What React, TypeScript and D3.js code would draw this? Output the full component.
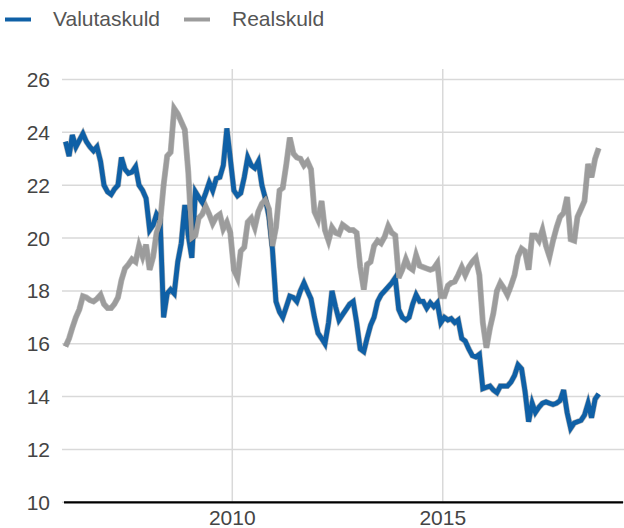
import React from "react";
import * as d3 from "d3";

const START_YEAR = 2006;
const START_MONTH = 0; // January

const valutaskuld = [
  23.65, 23.1, 23.9, 23.45, 23.7, 23.95, 23.65, 23.45, 23.3, 23.45, 22.9, 22.0,
  21.75, 21.65, 21.85, 22.0, 23.05, 22.6, 22.45, 22.5, 22.7, 22.0, 21.8, 21.5,
  20.3, 20.5, 20.9, 20.7, 17.0, 17.9, 18.05, 17.9, 19.1, 19.8, 21.25, 20.1,
  19.25, 21.75, 21.55, 21.35, 21.7, 22.1, 21.8, 22.25, 22.3, 22.75, 24.15, 23.0,
  21.8, 21.6, 21.7, 22.3, 23.05, 22.75, 22.65, 22.9, 22.0, 21.5, 20.8, 19.6,
  17.6, 17.2, 17.0, 17.4, 17.8, 17.75, 17.6, 18.0, 18.3, 18.0, 17.7, 17.0,
  16.4, 16.2, 16.0, 16.8, 18.0, 17.4, 16.9, 17.1, 17.3, 17.5, 17.6, 16.8,
  15.8, 15.7, 16.2, 16.7, 17.0, 17.6, 17.85, 18.0, 18.15, 18.3, 18.5, 17.3,
  17.0, 16.9, 17.0, 17.5, 17.85, 17.6, 17.6, 17.35, 17.55, 17.4, 17.55, 16.8,
  17.0, 16.9, 16.95, 16.8, 16.9, 16.2, 16.1, 15.8, 15.55, 15.5, 15.6, 14.3,
  14.35, 14.4, 14.25, 14.15, 14.4, 14.4, 14.4, 14.55, 14.8, 15.2, 15.05, 14.2,
  13.05, 13.75, 13.4, 13.6, 13.75, 13.8, 13.75, 13.7, 13.75, 13.85, 14.25, 13.4,
  12.8, 13.0, 13.05, 13.1, 13.3, 13.75, 13.2, 13.9, 14.1,
];

const realskuld = [
  15.9, 16.2, 16.6, 17.0, 17.3, 17.8, 17.75, 17.65, 17.6, 17.7, 17.85, 17.5,
  17.35, 17.35, 17.5, 17.75, 18.4, 18.85, 19.0, 19.2, 19.1, 19.7, 19.3, 19.75,
  18.8, 19.3, 20.2, 20.6, 22.0, 23.1, 23.25, 24.9, 24.7, 24.4, 24.1, 22.5,
  20.0, 20.1, 20.75, 20.9, 21.2, 20.9, 20.55, 20.8, 20.9, 20.35, 20.6, 20.2,
  18.8, 18.5, 19.5, 19.65, 20.6, 20.75, 20.4, 21.0, 21.3, 21.45, 21.1, 19.7,
  20.4, 21.8, 21.9, 22.8, 23.8, 23.2, 23.05, 23.0, 22.75, 22.9, 22.6, 21.0,
  20.7, 21.4, 20.3, 19.9, 20.4, 20.2, 20.15, 20.5, 20.4, 20.3, 20.3, 20.2,
  18.9, 18.05, 19.0, 19.1, 19.7, 19.9, 19.8, 20.05, 20.45, 20.2, 20.1, 18.5,
  18.8, 19.2, 18.9, 18.8, 19.35, 18.95, 18.9, 18.85, 18.8, 18.85, 19.05, 17.8,
  17.8, 18.2, 18.3, 18.35, 18.6, 18.9, 18.6, 18.9, 19.1, 19.25, 18.6, 16.8,
  15.85, 16.6, 17.15, 18.0, 18.3, 18.1, 17.85, 18.2, 18.6, 19.3, 19.6, 19.5,
  18.8, 20.1, 20.1, 19.9, 20.3, 19.7, 19.3, 19.9, 20.4, 20.8, 20.95, 21.55,
  19.95, 19.9, 20.8, 21.1, 21.4, 22.8, 22.3, 23.0, 23.4,
];

const seriesNames = ["Valutaskuld", "Realskuld"];
const seriesColors = ["#0f60a6", "#9c9c9c"];
const yTicks = [10, 12, 14, 16, 18, 20, 22, 24, 26];
const xTickYears = [2010, 2015];

const W = 624;
const H = 528;

export default function App() {
  const dates = valutaskuld.map((_, i) => new Date(START_YEAR, START_MONTH + i, 15));
  const x = d3
    .scaleTime()
    .domain([new Date(2006, 0, 1), new Date(2019, 3, 14)])
    .range([63.9, 623]);
  const y = d3.scaleLinear().domain([10, 26]).range([502.3, 79.5]);

  const line = d3
    .line<number>()
    .x((_, i) => x(dates[i]))
    .y((d) => y(d));

  const font = "Arial, 'Liberation Sans', Helvetica, sans-serif";
  const series = [valutaskuld, realskuld];

  return (
    <svg
      width={W}
      height={H}
      style={{ position: "absolute", left: 0, top: 0, display: "block", background: "#fff" }}
    >
      {/* legend */}
      {seriesNames.map((name, i) => {
        const lx = i === 0 ? 5 : 184;
        return (
          <g key={name}>
            <line x1={lx} x2={lx + 26} y1={19.5} y2={19.5} stroke={seriesColors[i]} strokeWidth={4} />
            <text x={lx + 48} y={26} fontFamily={font} fontSize={21} fill="#555">
              {name}
            </text>
          </g>
        );
      })}

      {/* horizontal gridlines */}
      {yTicks.map((t) => (
        <line key={"g" + t} x1={62} x2={624} y1={y(t)} y2={y(t)} stroke="#d9d9d9" strokeWidth={1.5} />
      ))}
      {/* vertical gridlines */}
      {xTickYears.map((yr) => (
        <line
          key={"v" + yr}
          x1={x(new Date(yr, 0, 1))}
          x2={x(new Date(yr, 0, 1))}
          y1={69}
          y2={y(10)}
          stroke="#d9d9d9"
          strokeWidth={1.5}
        />
      ))}

      {/* y tick labels */}
      {yTicks.map((t) => (
        <text
          key={"t" + t}
          x={50}
          y={y(t)}
          dy="0.36em"
          textAnchor="end"
          fontFamily={font}
          fontSize={21}
          fill="#444"
        >
          {t}
        </text>
      ))}

      {/* x tick labels */}
      {xTickYears.map((yr) => (
        <text
          key={"x" + yr}
          x={x(new Date(yr, 0, 1))}
          y={525}
          textAnchor="middle"
          fontFamily={font}
          fontSize={21}
          fill="#444"
        >
          {yr}
        </text>
      ))}

      {/* lines */}
      {series.map((s, i) => (
        <g key={"s" + i}>
          <path d={line(s) || ""} fill="none" stroke="rgba(60,60,60,0.35)" strokeWidth={6} />
          <path d={line(s) || ""} fill="none" stroke={seriesColors[i]} strokeWidth={4.8} />
        </g>
      ))}

      {/* x axis */}
      <line x1={64} x2={623} y1={y(10)} y2={y(10)} stroke="#000" strokeWidth={2.2} />
    </svg>
  );
}
